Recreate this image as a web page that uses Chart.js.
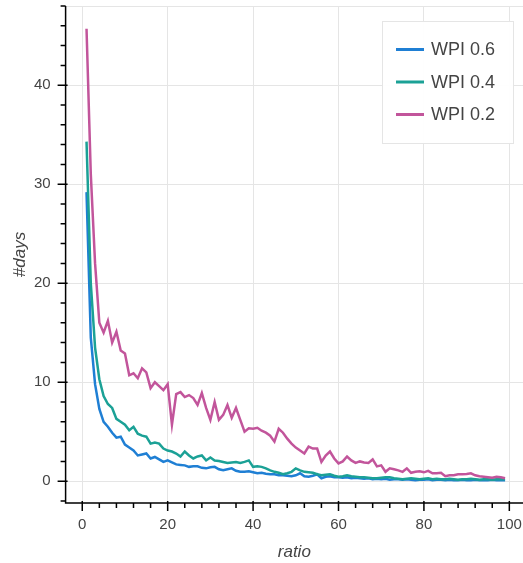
<!DOCTYPE html>
<html>
<head>
<meta charset="utf-8">
<script src="https://cdn.jsdelivr.net/npm/chart.js@4.4.1/dist/chart.umd.min.js"></script>
<style>
  html, body { margin: 0; padding: 0; background: #fff; overflow: hidden; }
  #wrap { width: 523px; height: 563px; position: relative; }
</style>
</head>
<body>
<div id="wrap"><canvas id="days-chart"></canvas></div>
<script>
// x values (ratio)
const ratio = [
  1, 2, 3, 4, 5, 6, 7, 8, 9, 10,
  11, 12, 13, 14, 15, 16, 17, 18, 19, 20,
  21, 22, 23, 24, 25, 26, 27, 28, 29, 30,
  31, 32, 33, 34, 35, 36, 37, 38, 39, 40,
  41, 42, 43, 44, 45, 46, 47, 48, 49, 50,
  51, 52, 53, 54, 55, 56, 57, 58, 59, 60,
  61, 62, 63, 64, 65, 66, 67, 68, 69, 70,
  71, 72, 73, 74, 75, 76, 77, 78, 79, 80,
  81, 82, 83, 84, 85, 86, 87, 88, 89, 90,
  91, 92, 93, 94, 95, 96, 97, 98, 99
];

const wpi06 = [
  29.2, 14.5, 9.8, 7.3, 6.0, 5.5, 4.9, 4.4, 4.5, 3.7,
  3.4, 3.1, 2.6, 2.7, 2.8, 2.3, 2.45, 2.2, 1.95, 2.1,
  1.9, 1.7, 1.65, 1.6, 1.45, 1.5, 1.5, 1.35, 1.3, 1.4,
  1.45, 1.2, 1.1, 1.2, 1.3, 1.05, 0.95, 0.95, 1.0, 0.9,
  0.8, 0.85, 0.75, 0.7, 0.7, 0.6, 0.6, 0.55, 0.5, 0.6,
  0.8, 0.5, 0.45, 0.55, 0.7, 0.3, 0.45, 0.5, 0.4, 0.4,
  0.35, 0.4, 0.3, 0.35, 0.3, 0.25, 0.3, 0.2, 0.25, 0.2,
  0.25, 0.15, 0.2, 0.2, 0.15, 0.2, 0.15, 0.1, 0.15, 0.15,
  0.2, 0.1, 0.15, 0.15, 0.1, 0.15, 0.1, 0.1, 0.15, 0.1,
  0.1, 0.15, 0.1, 0.1, 0.1, 0.15, 0.1, 0.1, 0.1
];

const wpi04 = [
  34.3, 20, 13.5, 10.3, 8.6, 7.8, 7.4, 6.3, 6.0, 5.7,
  5.15, 5.5, 4.8, 4.6, 4.5, 3.8, 3.9, 3.8, 3.3, 3.1,
  3.0, 2.8, 2.5, 3.0, 2.6, 2.3, 2.5, 2.6, 2.1, 2.4,
  2.1, 2.05, 1.95, 1.85, 1.9, 1.95, 1.85, 1.95, 2.1, 1.45,
  1.5, 1.45, 1.3, 1.1, 0.95, 0.85, 0.7, 0.8, 0.95, 1.3,
  1.1, 0.95, 0.9, 0.85, 0.7, 0.6, 0.65, 0.7, 0.55, 0.45,
  0.5, 0.6, 0.5, 0.45, 0.4, 0.4, 0.35, 0.3, 0.3, 0.35,
  0.4, 0.4, 0.3, 0.25, 0.2, 0.25, 0.3, 0.25, 0.2, 0.25,
  0.3, 0.2, 0.25, 0.2, 0.2, 0.25, 0.2, 0.15, 0.2, 0.2,
  0.25, 0.2, 0.15, 0.2, 0.2, 0.15, 0.2, 0.2, 0.2
];

const wpi02 = [
  45.7, 31, 22, 16, 15, 16.2, 14, 15.1, 13.2, 12.9,
  10.7, 10.9, 10.4, 11.4, 11.0, 9.4, 10.0, 9.6, 9.2, 9.8,
  5.7, 8.8, 9.0, 8.5, 8.7, 8.4, 7.7, 8.9, 7.4, 6.2,
  8.0, 6.2, 6.7, 7.7, 6.4, 7.4, 6.2, 5.0, 5.35, 5.3,
  5.4, 5.1, 4.9, 4.6, 4.0, 5.3, 4.9, 4.3, 3.8, 3.4,
  3.1, 2.8, 3.5, 3.3, 3.3, 1.95, 2.6, 3.0, 2.3, 1.8,
  2.0, 2.5, 2.1, 1.85, 2.0, 1.9, 1.85, 2.2, 1.5, 1.6,
  0.95, 1.3, 1.2, 1.1, 0.95, 1.3, 0.85, 0.95, 1.0, 0.9,
  1.05, 0.8, 0.8, 0.85, 0.5, 0.6, 0.6, 0.7, 0.7, 0.72,
  0.8, 0.6, 0.5, 0.45, 0.4, 0.35, 0.45, 0.4, 0.3
];

const seriesLabels = ["WPI 0.6", "WPI 0.4", "WPI 0.2"];
const seriesColors = ["#1f7fd4", "#1ba196", "#c2559b"];
const seriesValues = [wpi06, wpi04, wpi02];

const xTicks = [0, 20, 40, 60, 80, 100];
const yTicks = [0, 10, 20, 30, 40];

const FONT = "'Liberation Sans', Arial, sans-serif";
const TEXT = "#444";

// bokeh style axes: black lines, ticks in and out, minor ticks
const axesPlugin = {
  id: "axes",
  beforeDatasetsDraw(chart) {
    const { ctx, chartArea: a } = chart;
    ctx.save();
    ctx.strokeStyle = "#e5e5e5";
    ctx.lineWidth = 1;
    ctx.beginPath();
    ctx.moveTo(a.left, a.top + 0.5);
    ctx.lineTo(a.right, a.top + 0.5);
    ctx.stroke();
    ctx.restore();
  },
  afterDraw(chart) {
    const { ctx, chartArea: a, scales } = chart;
    const xs = scales.x;
    const ys = scales.y;
    ctx.save();
    ctx.strokeStyle = "#000";
    ctx.lineWidth = 1.5;
    ctx.beginPath();
    ctx.moveTo(a.left, a.top);
    ctx.lineTo(a.left, a.bottom);
    ctx.lineTo(a.right, a.bottom);

    for (let v = 0; v <= xs.max; v += 4) {
      const px = xs.getPixelForValue(v);
      const major = xTicks.includes(v);
      ctx.moveTo(px, a.bottom - (major ? 2 : 0));
      ctx.lineTo(px, a.bottom + (major ? 8 : 5));
    }
    for (let v = -2; v <= ys.max; v += 2) {
      const py = ys.getPixelForValue(v);
      const major = yTicks.includes(v);
      ctx.moveTo(a.left + (major ? 2 : 0), py);
      ctx.lineTo(a.left - (major ? 8 : 5), py);
    }
    ctx.stroke();

    // legend box
    const bx = a.right - 140.5;
    const by = a.top + 15.5;
    ctx.fillStyle = "rgba(255,255,255,0.95)";
    ctx.fillRect(bx, by, 131, 122);
    ctx.strokeStyle = "#e5e5e5";
    ctx.lineWidth = 1;
    ctx.strokeRect(bx, by, 131, 122);
    ctx.font = "18px " + FONT;
    ctx.textBaseline = "middle";
    ctx.fillStyle = TEXT;
    chart.data.datasets.forEach((ds, i) => {
      const ry = by + 28 + i * 32.5;
      ctx.strokeStyle = ds.borderColor;
      ctx.lineWidth = 3;
      ctx.beginPath();
      ctx.moveTo(bx + 13.5, ry);
      ctx.lineTo(bx + 41.5, ry);
      ctx.stroke();
      ctx.fillText(ds.label, bx + 48.5, ry + 1);
    });
    ctx.restore();
  }
};

// stop chart.js from reserving room for overhanging tick labels
const noPad = (s) => {
  s.paddingLeft = 0;
  s.paddingRight = 0;
  s.paddingTop = 0;
  s.paddingBottom = 0;
};

const datasets = seriesLabels.map((label, i) => ({
  label: label,
  data: ratio.map((r, j) => ({ x: r, y: seriesValues[i][j] })),
  borderColor: seriesColors[i],
  borderWidth: 2.5,
  pointRadius: 0,
  tension: 0,
  fill: false,
  order: 3 - i,
}));

new Chart(document.getElementById("days-chart"), {
  type: "line",
  data: { datasets: datasets },
  plugins: [axesPlugin],
  options: {
    responsive: true,
    maintainAspectRatio: false,
    animation: false,
    layout: { padding: { top: 6, left: 0, right: 0, bottom: 0 } },
    plugins: {
      legend: { display: false },
      tooltip: { enabled: false },
    },
    scales: {
      x: {
        type: "linear",
        min: -3.9,
        max: 103.2,
        afterFit: (s) => { s.height = 60; noPad(s); },
        afterBuildTicks: (s) => { s.ticks = xTicks.map((v) => ({ value: v })); },
        grid: { color: "#e5e5e5", lineWidth: 1, drawTicks: false },
        border: { display: false },
        ticks: {
          padding: 13,
          maxRotation: 0,
          color: TEXT,
          font: { family: FONT, size: 15 },
        },
        title: {
          display: true,
          text: "ratio",
          color: TEXT,
          padding: { top: 0, bottom: 1 },
          font: { family: FONT, size: 17, style: "italic" },
        },
      },
      y: {
        type: "linear",
        min: -2.2,
        max: 48,
        afterFit: (s) => { s.width = 65.6; noPad(s); },
        afterBuildTicks: (s) => { s.ticks = yTicks.map((v) => ({ value: v })); },
        grid: { color: "#e5e5e5", lineWidth: 1, drawTicks: false },
        border: { display: false },
        ticks: {
          padding: 15,
          color: TEXT,
          font: { family: FONT, size: 15 },
        },
        title: {
          display: true,
          text: "#days",
          color: TEXT,
          padding: { top: 10, bottom: 0 },
          font: { family: FONT, size: 17, style: "italic" },
        },
      },
    },
  },
});
</script>
</body>
</html>
